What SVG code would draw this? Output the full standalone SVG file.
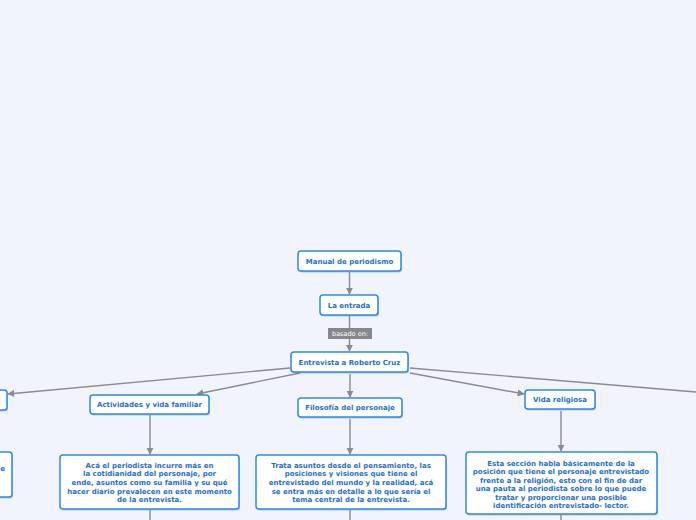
<svg xmlns="http://www.w3.org/2000/svg" width="696" height="520" viewBox="0 0 696 520">
<style>
.bg{fill:#f2f4fd}
.box{fill:#ffffff;stroke:#2d8ae8;stroke-width:1.5}
.sh{fill:#7a8494;opacity:0.45}
.t{font-family:"DejaVu Sans",Verdana,sans-serif;font-weight:bold;font-size:7px;fill:#1f6fd1;text-anchor:middle}
.c{stroke:#8a8a8e;stroke-width:1.4;fill:none}
.lbl{fill:#85878c}
.lt{font-family:"DejaVu Sans",Verdana,sans-serif;font-size:6.5px;fill:#ffffff;text-anchor:middle}
</style>
<defs>
<marker id="ah" viewBox="0 0 10 10" refX="9" refY="5" markerWidth="7" markerHeight="7" markerUnits="userSpaceOnUse" orient="auto">
<path d="M0,0 L10,5 L0,10 z" fill="#8a8a8e"/>
</marker>
</defs>
<rect class="bg" x="0" y="0" width="696" height="520"/>
<g id="connectors">
<line class="c" x1="349.5" y1="272" x2="349.5" y2="294" marker-end="url(#ah)"/>
<line class="c" x1="349.5" y1="316" x2="349.5" y2="351" marker-end="url(#ah)"/>
<line class="c" x1="290" y1="368" x2="8" y2="394" marker-end="url(#ah)"/>
<line class="c" x1="300" y1="373" x2="197" y2="394" marker-end="url(#ah)"/>
<line class="c" x1="350" y1="374" x2="350" y2="397" marker-end="url(#ah)"/>
<line class="c" x1="410" y1="373" x2="524" y2="394" marker-end="url(#ah)"/>
<line class="c" x1="410" y1="368" x2="696" y2="392"/>
<line class="c" x1="150" y1="415" x2="150" y2="454" marker-end="url(#ah)"/>
<line class="c" x1="350" y1="419" x2="350" y2="454" marker-end="url(#ah)"/>
<line class="c" x1="561" y1="411" x2="561" y2="451" marker-end="url(#ah)"/>
<line class="c" x1="150" y1="510" x2="150" y2="520"/>
<line class="c" x1="350" y1="510" x2="350" y2="520"/>
<line class="c" x1="561" y1="515" x2="561" y2="520"/>
</g>
<g id="label-basado">
<rect class="lbl" x="328" y="328" width="44" height="11"/>
<text class="lt" x="350" y="336">basado en:</text>
</g>
<g id="n-manual">
<rect class="sh" x="299" y="252.5" width="103" height="20" rx="3"/>
<rect class="box" x="298" y="251" width="103" height="20" rx="3"/>
<text class="t" x="349.5" y="263.5">Manual de periodismo</text>
</g>
<g id="n-entrada">
<rect class="sh" x="321" y="296.5" width="58" height="20" rx="3"/>
<rect class="box" x="320" y="295" width="58" height="20" rx="3"/>
<text class="t" x="349" y="307.5">La entrada</text>
</g>
<g id="n-entrevista">
<rect class="sh" x="292" y="353.5" width="117" height="20" rx="3"/>
<rect class="box" x="291" y="352" width="117" height="20" rx="3"/>
<text class="t" x="349.5" y="364.5">Entrevista a Roberto Cruz</text>
</g>
<g id="n-left">
<rect class="sh" x="-20" y="391.5" width="28" height="20" rx="3"/>
<rect class="box" x="-21" y="390" width="28" height="20" rx="3"/>
</g>
<g id="n-actividades">
<rect class="sh" x="91" y="396.5" width="119" height="19" rx="3"/>
<rect class="box" x="90" y="395" width="119" height="19" rx="3"/>
<text class="t" x="149.5" y="407">Actividades y vida familiar</text>
</g>
<g id="n-filosofia">
<rect class="sh" x="299" y="399.5" width="104" height="19" rx="3"/>
<rect class="box" x="298" y="398" width="104" height="19" rx="3"/>
<text class="t" x="350" y="410">Filosofía del personaje</text>
</g>
<g id="n-religiosa">
<rect class="sh" x="526" y="391.5" width="70" height="19" rx="3"/>
<rect class="box" x="525" y="390" width="70" height="19" rx="3"/>
<text class="t" x="560" y="402">Vida religiosa</text>
</g>
<g id="d-left">
<rect class="sh" x="-39" y="453.5" width="52" height="45" rx="3"/>
<rect class="box" x="-40" y="452" width="52" height="45" rx="3"/>
<text class="t" x="5" y="470.5" style="text-anchor:end">e</text>
</g>
<g id="d-actividades">
<rect class="sh" x="61" y="456.5" width="179" height="54" rx="3"/>
<rect class="box" x="60" y="455" width="179" height="54" rx="3"/>
<text class="t" x="149.5" y="467.5">Acá el periodista incurre más en</text>
<text class="t" x="149.5" y="476.2">la cotidianidad del personaje, por</text>
<text class="t" x="149.5" y="484.9">ende, asuntos como su familia y su qué</text>
<text class="t" x="149.5" y="493.6">hacer diario prevalecen en este momento</text>
<text class="t" x="149.5" y="502.3">de la entrevista.</text>
</g>
<g id="d-filosofia">
<rect class="sh" x="257" y="456.5" width="190" height="54" rx="3"/>
<rect class="box" x="256" y="455" width="190" height="54" rx="3"/>
<text class="t" x="351" y="467.5">Trata asuntos desde el pensamiento, las</text>
<text class="t" x="351" y="476.2">posiciones y visiones que tiene el</text>
<text class="t" x="351" y="484.9">entrevistado del mundo y la realidad, acá</text>
<text class="t" x="351" y="493.6">se entra más en detalle a lo que sería el</text>
<text class="t" x="351" y="502.3">tema central de la entrevista.</text>
</g>
<g id="d-religiosa">
<rect class="sh" x="467" y="453.5" width="191" height="62" rx="3"/>
<rect class="box" x="466" y="452" width="191" height="62" rx="3"/>
<text class="t" x="561" y="465.5">Esta sección habla básicamente de la</text>
<text class="t" x="561" y="474">posición que tiene el personaje entrevistado</text>
<text class="t" x="561" y="482.5">frente a la religión, esto con el fin de dar</text>
<text class="t" x="561" y="491">una pauta al periodista sobre lo que puede</text>
<text class="t" x="561" y="499.5">tratar y proporcionar una posible</text>
<text class="t" x="561" y="508">identificación entrevistado- lector.</text>
</g>
</svg>
